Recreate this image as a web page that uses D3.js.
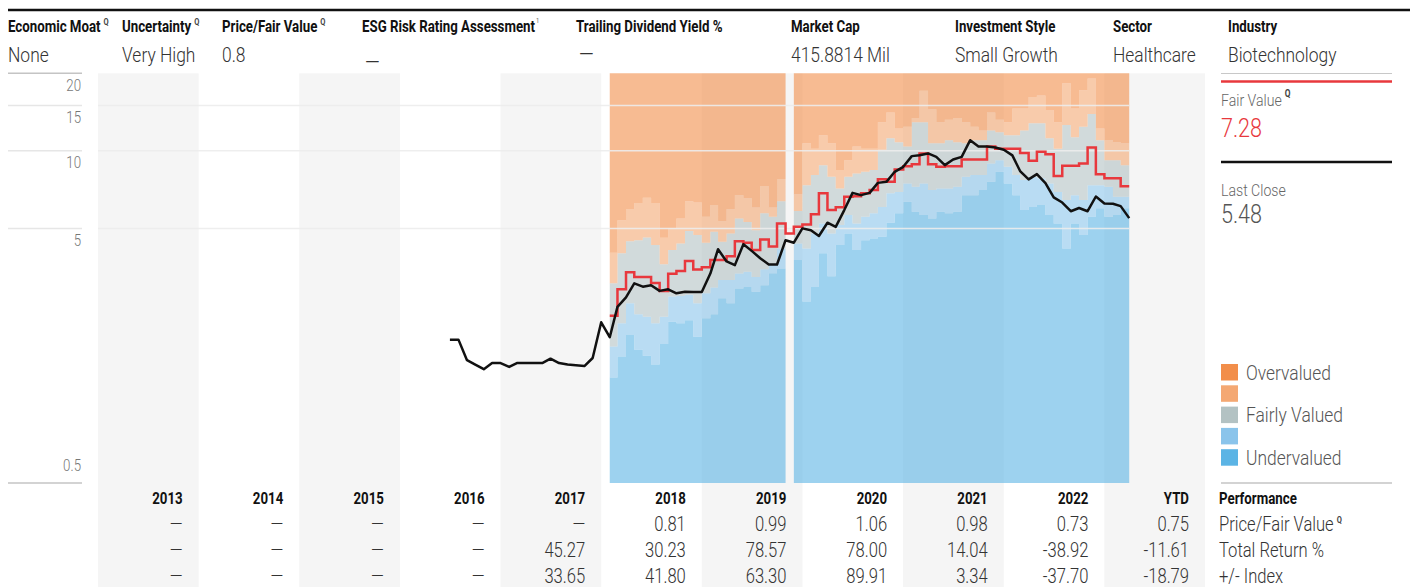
<!DOCTYPE html>
<html>
<head>
<meta charset="utf-8">
<script src="https://cdn.jsdelivr.net/npm/d3@7"></script>
<style>
  body { margin: 0; background: #fff; }
</style>
</head>
<body>
<div id="chart"></div>
<script>
// ---- data ----
const headerLabels = ["Economic Moat", "Uncertainty", "Price/Fair Value", "ESG Risk Rating Assessment", "Trailing Dividend Yield %", "Market Cap", "Investment Style", "Sector", "Industry"];
const headerValues = ["None", "Very High", "0.8", "—", "—", "415.8814 Mil", "Small Growth", "Healthcare", "Biotechnology"];

const years = ["2013", "2014", "2015", "2016", "2017", "2018", "2019", "2020", "2021", "2022", "YTD"];
const rowLabels = ["Price/Fair Value", "Total Return %", "+/- Index"];
const priceFairRow = [null, null, null, null, null, 0.81, 0.99, 1.06, 0.98, 0.73, 0.75];
const totalReturnRow = [null, null, null, null, 45.27, 30.23, 78.57, 78.00, 14.04, -38.92, -11.61];
const indexRow = [null, null, null, null, 33.65, 41.80, 63.30, 89.91, 3.34, -37.70, -18.79];

const yTicks = [20, 15, 10, 5, 0.5];

// monthly valuation bands (Feb 2018 .. Mar 2023), Nov 2019 has no band
const bandMonths = [
  "2018-02","2018-03","2018-04","2018-05","2018-06","2018-07","2018-08","2018-09","2018-10","2018-11","2018-12",
  "2019-01","2019-02","2019-03","2019-04","2019-05","2019-06","2019-07","2019-08","2019-09","2019-10","2019-11","2019-12",
  "2020-01","2020-02","2020-03","2020-04","2020-05","2020-06","2020-07","2020-08","2020-09","2020-10","2020-11","2020-12",
  "2021-01","2021-02","2021-03","2021-04","2021-05","2021-06","2021-07","2021-08","2021-09","2021-10","2021-11","2021-12",
  "2022-01","2022-02","2022-03","2022-04","2022-05","2022-06","2022-07","2022-08","2022-09","2022-10","2022-11","2022-12",
  "2023-01","2023-02","2023-03"
];
const undervaluedTop = [
  1.32,1.59,1.93,1.69,1.60,1.48,1.78,2.17,2.14,2.20,1.90,
  2.24,2.32,2.68,2.56,2.92,2.96,2.84,3.01,3.35,3.49,null,3.77,
  2.60,2.96,4.00,3.26,4.31,4.78,4.12,4.50,4.57,4.64,5.26,5.72,
  6.34,5.80,5.63,5.46,5.80,5.72,5.80,6.73,6.73,7.04,7.58,8.29,
  7.47,6.73,5.89,6.06,6.16,5.63,5.22,4.18,5.22,4.71,5.55,5.98,
  5.55,5.63,5.98
];
const lightUnderTop = [
  1.74,2.14,2.56,2.32,2.27,2.14,2.27,2.72,2.73,2.76,2.56,
  2.80,2.95,3.15,3.15,3.34,3.39,3.24,3.47,3.63,4.18,null,4.37,
  4.18,4.78,5.22,4.78,5.15,5.63,5.22,5.55,5.72,6.06,6.84,6.93,
  7.47,7.25,7.47,7.04,7.15,7.15,7.25,7.93,8.05,8.05,8.93,9.20,
  8.67,8.05,7.70,7.93,7.82,7.47,6.93,6.44,6.73,6.44,7.36,7.36,
  7.25,6.64,6.64
];
const fairTop = [
  3.06,4.00,4.46,4.50,4.61,4.31,3.63,4.12,4.37,4.88,4.71,
  4.40,4.85,4.44,4.78,5.46,5.30,4.92,5.72,5.55,6.38,null,5.84,
  7.36,8.05,8.80,7.93,7.15,7.93,8.17,8.29,8.42,10.1,11.2,10.8,
  10.4,12.9,12.9,10.7,10.7,11.0,10.8,10.7,11.0,11.0,12.0,11.8,
  11.5,11.5,12.0,12.8,12.8,11.2,10.2,12.6,11.3,12.4,13.9,11.0,
  9.20,9.20,8.80
];
const lightOverTop = [
  4.02,5.38,5.95,6.28,6.58,6.28,4.60,5.00,5.46,6.38,6.30,
  5.55,6.16,5.33,5.93,6.73,6.54,6.02,7.30,6.02,7.77,null,6.79,
  10.7,10.2,11.5,10.7,8.42,9.20,10.4,10.2,10.2,12.9,14.1,12.2,
  12.4,13.4,17.1,14.5,12.9,13.2,13.4,12.9,12.4,12.0,14.1,13.2,
  12.9,14.6,14.6,16.2,16.4,14.4,12.9,18.3,14.6,17.2,19.1,12.2,
  11.0,10.8,10.7
];
const fairValues = [
  2.29,2.90,3.38,3.24,3.24,3.07,2.86,3.33,3.42,3.74,3.46,
  3.53,3.77,3.77,3.90,4.46,4.40,4.12,4.53,4.25,5.22,4.78,5.07,
  5.18,5.68,6.84,5.89,6.04,6.64,6.67,6.84,7.04,7.75,7.58,8.47,
  8.72,8.88,9.77,8.88,8.67,8.72,8.72,9.25,9.25,9.25,10.4,10.2,
  10.2,10.2,9.82,9.15,9.91,9.71,7.98,8.75,8.75,8.94,10.3,8.12,
  7.82,7.82,7.28
];

// month-end closing prices (Jun 2016 .. Mar 2023)
const priceMonths = [
  "2016-06","2016-07","2016-08","2016-09","2016-10","2016-11","2016-12",
  "2017-01","2017-02","2017-03","2017-04","2017-05","2017-06","2017-07","2017-08","2017-09","2017-10","2017-11","2017-12",
  "2018-01","2018-02","2018-03","2018-04","2018-05","2018-06","2018-07","2018-08","2018-09","2018-10","2018-11","2018-12",
  "2019-01","2019-02","2019-03","2019-04","2019-05","2019-06","2019-07","2019-08","2019-09","2019-10","2019-11","2019-12",
  "2020-01","2020-02","2020-03","2020-04","2020-05","2020-06","2020-07","2020-08","2020-09","2020-10","2020-11","2020-12",
  "2021-01","2021-02","2021-03","2021-04","2021-05","2021-06","2021-07","2021-08","2021-09","2021-10","2021-11","2021-12",
  "2022-01","2022-02","2022-03","2022-04","2022-05","2022-06","2022-07","2022-08","2022-09","2022-10","2022-11","2022-12",
  "2023-01","2023-02","2023-03"
];
const closePrices = [
  1.85,1.85,1.54,1.48,1.42,1.50,1.50,
  1.45,1.50,1.50,1.50,1.50,1.56,1.50,1.48,1.47,1.46,1.57,2.16,
  1.89,2.48,2.70,3.06,2.97,3.01,2.86,2.90,2.80,2.84,2.83,2.83,
  3.34,4.15,3.72,3.60,4.34,4.09,3.83,3.62,3.62,4.50,4.40,5.00,
  4.92,4.67,5.26,5.07,5.89,6.87,6.73,6.87,7.51,7.58,8.29,8.67,
  9.54,9.62,9.77,9.48,8.80,9.26,9.48,11.0,10.4,10.4,10.3,10.1,
  9.60,8.35,7.75,8.12,7.50,6.60,6.30,5.83,6.00,5.83,6.65,6.25,
  6.23,6.10,5.48
];

const legendItems = [
  { label: "Overvalued", color: "#f28e4a" },
  { label: "", color: "#f4a873" },
  { label: "Fairly Valued", color: "#b3c2c3" },
  { label: "", color: "#8ac4eb" },
  { label: "Undervalued", color: "#5bb4e5" }
];

// ---- drawing ----
const W = 1410, H = 587;
const SX = 0.83;   // squeeze text horizontally, no condensed face installed

const svg = d3.select("#chart").append("svg")
    .attr("width", W)
    .attr("height", H)
    .style("font-family", "Roboto, 'Noto Sans', sans-serif");

// text helper: condensed look via horizontal scale
function label(xPos, yPos, str, size, opts = {}) {
    return svg.append("text")
        .attr("transform", `translate(${xPos},${yPos}) scale(${SX},1)`)
        .attr("font-size", size)
        .attr("font-weight", opts.weight || 400)
        .attr("fill", opts.fill || "#333")
        .attr("text-anchor", opts.anchor || "start")
        .text(str);
}
// small "Q" marker after a text
function addQ(t, xPos, yPos, size, dy) {
    const w = t.node().getComputedTextLength() * SX;
    label(xPos + w + 3, yPos - dy, "Q", size, { weight: 700, fill: "#444" });
}

// scales
const x = d3.scaleTime().domain([new Date(2013, 0, 1), new Date(2024, 0, 1)]).range([98, 1205]);
const y = d3.scaleLog().domain([0.5, 20]).range([486, 73.3]);
const col = d3.scaleBand().domain(years).range([98, 1205]);
const plotTop = y(20), plotBottom = 483;

const monthStart = s => { const [yy, mm] = s.split("-").map(Number); return new Date(yy, mm - 1, 1); };
const monthEnd = s => { const [yy, mm] = s.split("-").map(Number); return new Date(yy, mm, 1); };
const chartEnd = x(monthEnd(bandMonths[bandMonths.length - 1]));

// top rule
svg.append("line").attr("x1", 8).attr("x2", W).attr("y1", 10).attr("y2", 10)
    .attr("stroke", "#111").attr("stroke-width", 2.5);

// header
const headerX = [8, 122, 222, 362, 576, 791, 955, 1113, 1228];
headerLabels.forEach((lab, i) => {
    const t = label(headerX[i], 32, lab, 16, { weight: 700, fill: "#111" });
    if (i < 3) addQ(t, headerX[i], 32, 9, 7);
    if (i === 3) {
        const w = t.node().getComputedTextLength() * SX;
        label(headerX[i] + w + 1, 23, "1", 7, { fill: "#666" });
    }
    // the ESG dash sits lower than the other values
    const isDash = headerValues[i] === "—";
    label(headerX[i] + (isDash ? 3 : 0), i === 3 ? 70 : 62, headerValues[i], isDash ? 23 : 21, { weight: 300, fill: "#333" });
});

// alternating year columns
svg.selectAll("rect.yearband")
    .data(years.filter((d, i) => i % 2 === 0))
    .join("rect")
    .attr("class", "yearband")
    .attr("x", d => col(d))
    .attr("width", col.bandwidth())
    .attr("y", plotTop)
    .attr("height", H - plotTop)
    .attr("fill", "#f5f5f5");

// valuation bands as stepped areas
const bandPts = [];
bandMonths.forEach((m, i) => {
    bandPts.push({ d: monthStart(m), i: i });
    bandPts.push({ d: monthEnd(m), i: i });
});
const levels = [
    { lower: null, upper: undervaluedTop, color: legendItems[4].color },
    { lower: undervaluedTop, upper: lightUnderTop, color: legendItems[3].color },
    { lower: lightUnderTop, upper: fairTop, color: legendItems[2].color },
    { lower: fairTop, upper: lightOverTop, color: legendItems[1].color },
    { lower: lightOverTop, upper: null, color: legendItems[0].color }
];
const bandG = svg.append("g");
levels.forEach(L => {
    const area = d3.area()
        .defined(p => undervaluedTop[p.i] != null)
        .x(p => x(p.d))
        .y0(p => L.lower ? y(L.lower[p.i]) : plotBottom)
        .y1(p => L.upper ? y(L.upper[p.i]) : plotTop);
    bandG.append("path").datum(bandPts)
        .attr("d", area)
        .attr("fill", L.color)
        .attr("fill-opacity", 0.6);
});

// gridlines
[15, 10, 5].forEach(v => {
    svg.append("line").attr("x1", 98).attr("x2", chartEnd).attr("y1", y(v)).attr("y2", y(v))
        .attr("stroke", "#ececec").attr("stroke-opacity", 0.9).attr("stroke-width", 1.5);
});

// left axis
yTicks.forEach(v => {
    const edge = v === 20 || v === 0.5;
    const ly = v === 0.5 ? plotBottom : y(v);
    svg.append("line").attr("x1", 8).attr("x2", 82).attr("y1", ly).attr("y2", ly)
        .attr("stroke", edge ? "#c4c4c4" : "#e6e6e6").attr("stroke-width", 1.5);
    label(81, v === 0.5 ? plotBottom - 12 : ly + 17.5, v, 16, { anchor: "end", fill: "#777", weight: 300 });
});

// fair value step line
const fvLine = d3.line().x(p => x(p.d)).y(p => y(fairValues[p.i]));
svg.append("path").datum(bandPts)
    .attr("d", fvLine)
    .attr("fill", "none")
    .attr("stroke", "#e8383d")
    .attr("stroke-width", 2.5);

// price line
const priceLine = d3.line().x((d, i) => x(monthEnd(priceMonths[i]))).y(d => y(d));
svg.append("path").datum(closePrices)
    .attr("d", priceLine)
    .attr("fill", "none")
    .attr("stroke", "#111")
    .attr("stroke-width", 2.5)
    .attr("stroke-linejoin", "round");

// right panel
const rx = 1221, rx2 = 1392;
svg.append("line").attr("x1", rx).attr("x2", rx2).attr("y1", 73.5).attr("y2", 73.5).attr("stroke", "#c8c8c8").attr("stroke-width", 1);
svg.append("line").attr("x1", rx).attr("x2", rx2).attr("y1", 81.5).attr("y2", 81.5).attr("stroke", "#e8383d").attr("stroke-width", 2.7);
const fvLab = label(rx, 106, "Fair Value", 17, { fill: "#666", weight: 300 });
addQ(fvLab, rx, 106, 10, 9);
label(rx, 137, fairValues[fairValues.length - 1].toFixed(2), 26, { fill: "#e8383d", weight: 300 });
svg.append("line").attr("x1", rx).attr("x2", rx2).attr("y1", 162).attr("y2", 162).attr("stroke", "#111").attr("stroke-width", 2.7);
label(rx, 196, "Last Close", 17, { fill: "#666", weight: 300 });
label(rx, 223, closePrices[closePrices.length - 1].toFixed(2), 26, { fill: "#555", weight: 300 });

// legend
legendItems.forEach((d, i) => {
    svg.append("rect").attr("x", 1221).attr("y", 364 + i * 21.3).attr("width", 17).attr("height", 16.5).attr("fill", d.color);
    if (d.label) label(1246, 364 + i * 21.3 + 15.5, d.label, 21, { fill: "#555", weight: 300 });
});

// performance table
svg.append("line").attr("x1", rx).attr("x2", rx2).attr("y1", plotBottom).attr("y2", plotBottom).attr("stroke", "#c4c4c4").attr("stroke-width", 1.5);
const colRight = d => col(d) + col.bandwidth() - 16;
years.forEach(yr => {
    label(colRight(yr), 504, yr, 16, { anchor: "end", weight: 700, fill: "#111" });
});
label(1219, 504, "Performance", 16, { weight: 700, fill: "#111" });

const rows = [priceFairRow, totalReturnRow, indexRow];
rows.forEach((row, r) => {
    const ry = 531 + r * 26;
    row.forEach((v, i) => {
        label(colRight(years[i]), ry, v == null ? "—" : v.toFixed(2), 20, { anchor: "end", weight: 300, fill: "#333" });
    });
    const lt = label(1219, ry, rowLabels[r], 20, { weight: 300, fill: "#333" });
    if (r === 0) addQ(lt, 1219, ry, 9, 8);
});
</script>
</body>
</html>
